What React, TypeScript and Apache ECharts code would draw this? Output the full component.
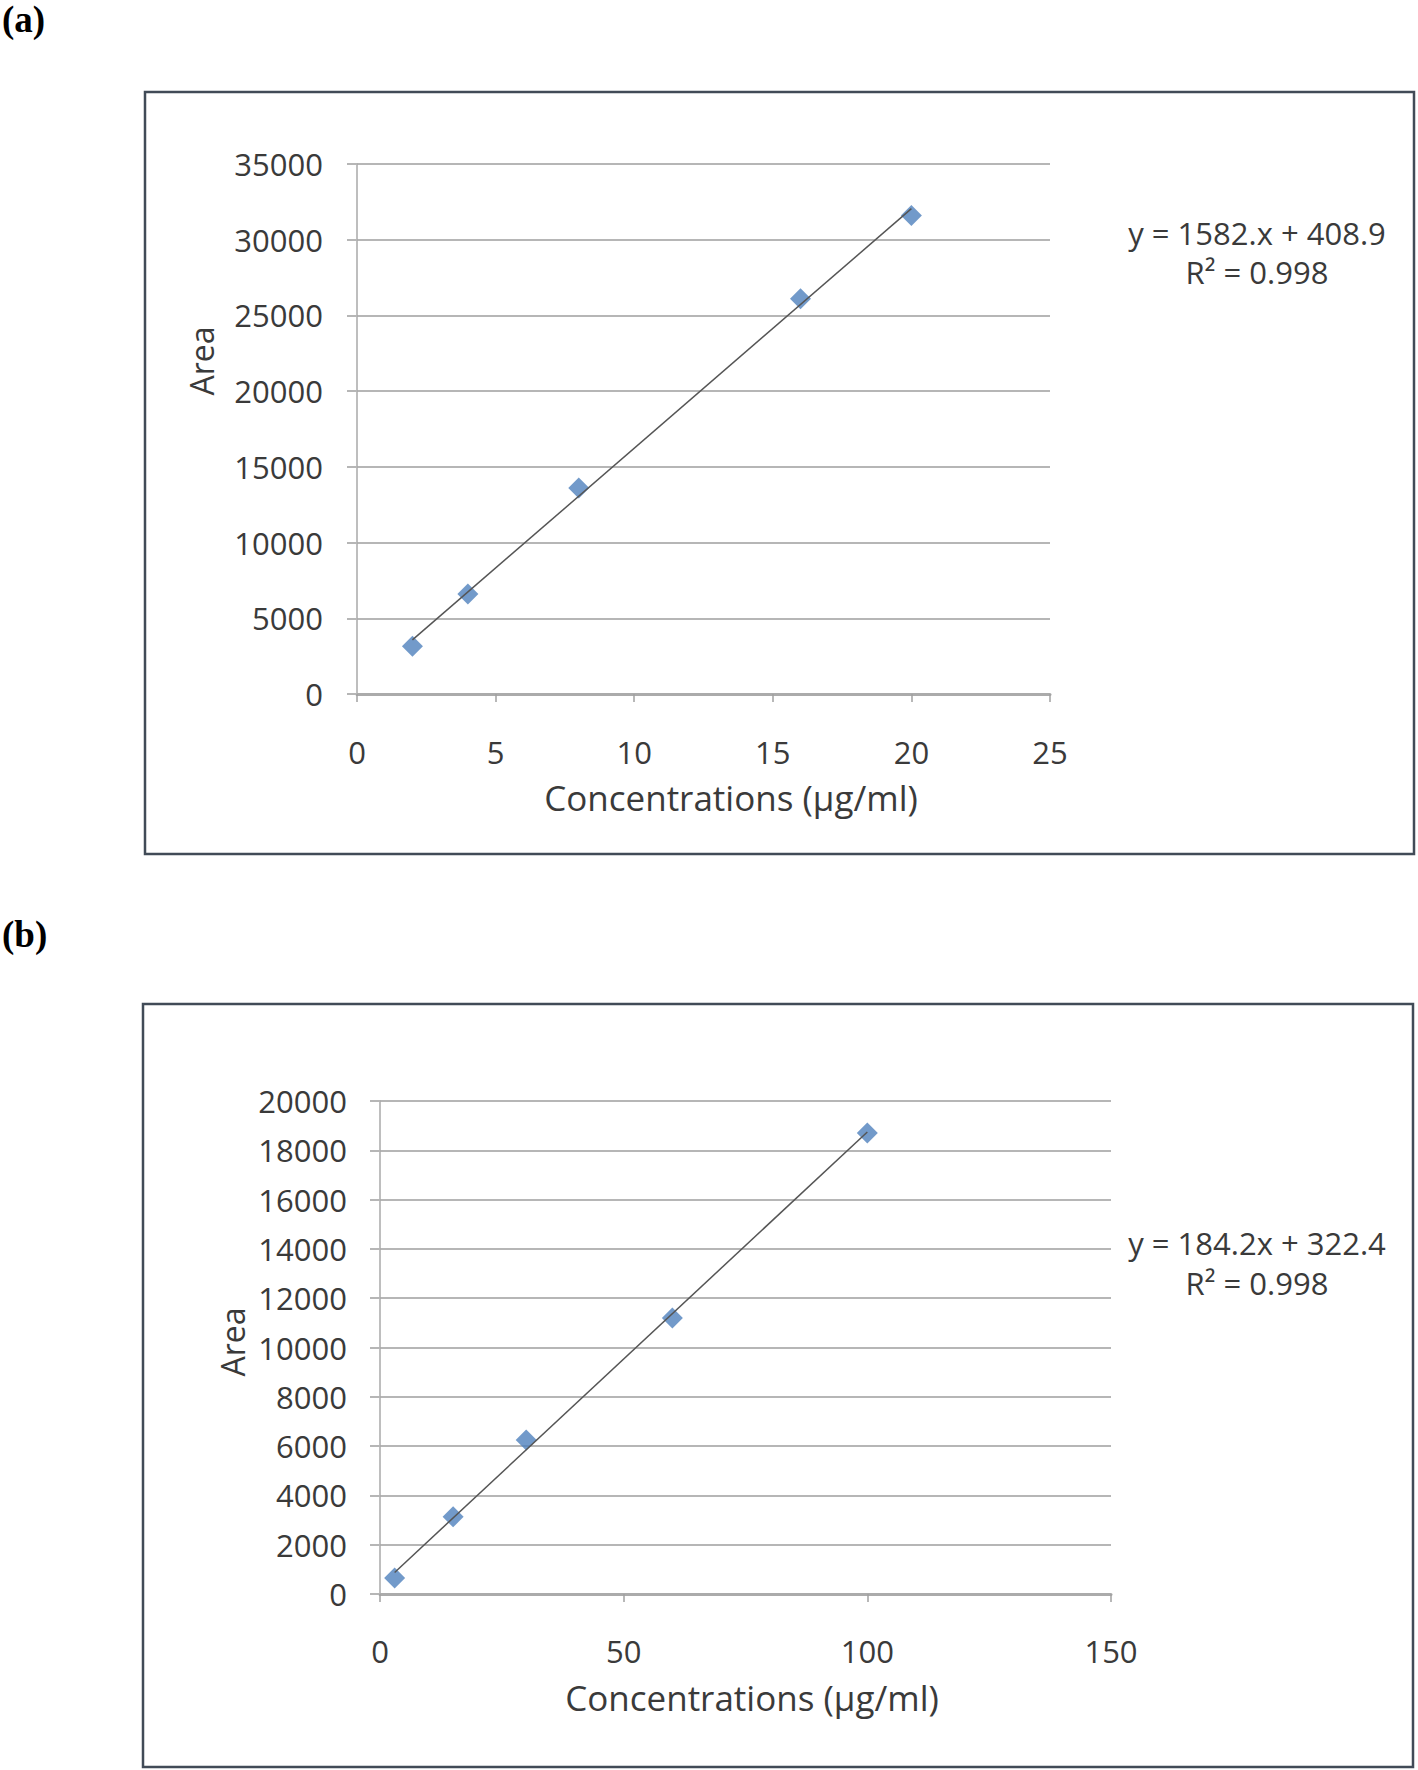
import React, { useEffect, useRef } from "react";
import * as echarts from "echarts";

// ---- data ----
const concA = [2, 4, 8, 16, 20];
const areaA = [3150, 6600, 13600, 26100, 31600];
const trendConcA = [2, 20];
const trendAreaA = [3570, 32050];
const eqA = ["y = 1582.x + 408.9", "R\u00b2 = 0.998"];
const xMaxA = 25;
const xStepA = 5;
const yMaxA = 35000;
const yStepA = 5000;

const concB = [3, 15, 30, 60, 100];
const areaB = [650, 3130, 6250, 11200, 18700];
const trendConcB = [3, 100];
const trendAreaB = [875, 18742];
const eqB = ["y = 184.2x + 322.4", "R\u00b2 = 0.998"];
const xMaxB = 150;
const xStepB = 50;
const yMaxB = 20000;
const yStepB = 2000;

const panelLabels = ["(a)", "(b)"];
const xTitle = "Concentrations (\u00b5g/ml)";
const yTitle = "Area";

const FONT = "'Open Sans', 'DejaVu Sans', sans-serif";
const TXT = "#3a3a3a";
const GRID = "#b6b6b6";
const BLUE = "#4F81BD";

function xAxisCfg(gridIndex: number, max: number, step: number, margin: number) {
  return {
    type: "value",
    gridIndex,
    min: 0,
    max,
    interval: step,
    axisLine: { show: true, lineStyle: { color: "#ababab", width: 3 } },
    axisTick: { show: true, inside: false, length: 8, lineStyle: { color: "#a0a0a0", width: 1.5 } },
    axisLabel: {
      color: TXT,
      fontFamily: FONT,
      fontSize: 31,
      lineHeight: 31,
      margin,
      formatter: (v: number) => String(v),
    },
    splitLine: { show: false },
  };
}

function yAxisCfg(gridIndex: number, max: number, step: number, margin: number) {
  return {
    type: "value",
    gridIndex,
    min: 0,
    max,
    interval: step,
    axisLine: { show: true, onZero: false, lineStyle: { color: "#a8a8a8", width: 1.5 } },
    axisTick: { show: true, inside: false, length: 10, lineStyle: { color: GRID, width: 2 } },
    axisLabel: {
      color: TXT,
      fontFamily: FONT,
      fontSize: 31,
      lineHeight: 31,
      margin,
      formatter: (v: number) => String(v),
    },
    splitLine: { show: true, lineStyle: { color: GRID, width: 2 } },
  };
}

function pts(xs: number[], ys: number[]) {
  return xs.map((x, i) => [x, ys[i]]);
}

function txt(text: string, x: number, y: number, size: number, extra: any = {}) {
  return {
    type: "text",
    x,
    y,
    ...extra,
    style: {
      text,
      fill: TXT,
      font: `${size}px ${FONT}`,
      textAlign: "center",
      textVerticalAlign: "middle",
    },
  };
}

export default function App() {
  const ref = useRef<HTMLDivElement>(null);

  useEffect(() => {
    document.body.style.margin = "0";
    if (!ref.current) return;
    const chart = echarts.init(ref.current, undefined, { renderer: "svg" });

    const option: any = {
      animation: false,
      backgroundColor: "#ffffff",
      grid: [
        { left: 357, top: 164, width: 693, height: 530, containLabel: false },
        { left: 380, top: 1101, width: 731, height: 493, containLabel: false },
      ],
      xAxis: [xAxisCfg(0, xMaxA, xStepA, 42), xAxisCfg(1, xMaxB, xStepB, 41)],
      yAxis: [yAxisCfg(0, yMaxA, yStepA, 34), yAxisCfg(1, yMaxB, yStepB, 33)],
      series: [
        {
          type: "scatter",
          xAxisIndex: 0,
          yAxisIndex: 0,
          data: pts(concA, areaA),
          symbol: "diamond",
          symbolSize: 21,
          itemStyle: { color: BLUE },
          clip: false,
          z: 2,
        },
        {
          type: "line",
          xAxisIndex: 0,
          yAxisIndex: 0,
          data: pts(trendConcA, trendAreaA),
          showSymbol: false,
          symbol: "none",
          lineStyle: { color: "#555555", width: 1.5 },
          z: 3,
        },
        {
          type: "scatter",
          xAxisIndex: 1,
          yAxisIndex: 1,
          data: pts(concB, areaB),
          symbol: "diamond",
          symbolSize: 21,
          itemStyle: { color: BLUE },
          clip: false,
          z: 2,
        },
        {
          type: "line",
          xAxisIndex: 1,
          yAxisIndex: 1,
          data: pts(trendConcB, trendAreaB),
          showSymbol: false,
          symbol: "none",
          lineStyle: { color: "#555555", width: 1.5 },
          z: 3,
        },
      ],
      graphic: [
        {
          type: "rect",
          shape: { x: 145, y: 92, width: 1269, height: 762 },
          style: { fill: "none", stroke: "#414b57", lineWidth: 2.5 },
          silent: true,
        },
        {
          type: "rect",
          shape: { x: 143, y: 1004, width: 1270, height: 763 },
          style: { fill: "none", stroke: "#414b57", lineWidth: 2.5 },
          silent: true,
        },
        {
          type: "text",
          x: 2,
          y: 1,
          style: {
            text: panelLabels[0],
            fill: "#000",
            font: "bold 37px 'Liberation Serif', 'Times New Roman', serif",
            textAlign: "left",
            textVerticalAlign: "top",
          },
        },
        {
          type: "text",
          x: 2,
          y: 934,
          style: {
            text: panelLabels[1],
            fill: "#000",
            font: "bold 37px 'Liberation Serif', 'Times New Roman', serif",
            textAlign: "left",
            textVerticalAlign: "middle",
          },
        },
        txt(eqA[0], 1257, 233, 31),
        txt(eqA[1], 1257, 272, 31),
        txt(eqB[0], 1257, 1243, 31),
        txt(eqB[1], 1257, 1283, 31),
        txt(xTitle, 731, 797, 35),
        txt(xTitle, 752, 1697, 35),
        txt(yTitle, 201, 361, 32, { rotation: Math.PI / 2 }),
        txt(yTitle, 232, 1342, 32, { rotation: Math.PI / 2 }),
      ],
    };

    chart.setOption(option);
    return () => chart.dispose();
  }, []);

  return (
    <div
      ref={ref}
      style={{ position: "absolute", left: 0, top: 0, width: 1418, height: 1770, background: "#fff" }}
    />
  );
}
